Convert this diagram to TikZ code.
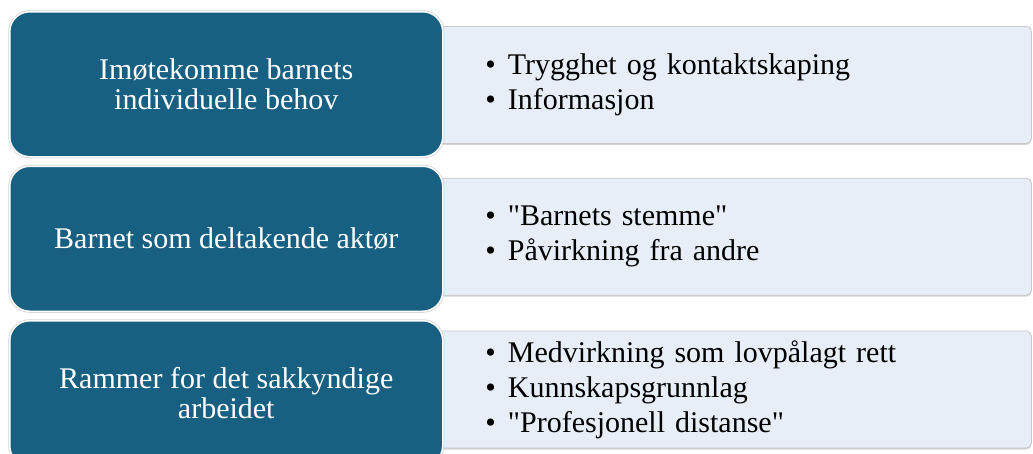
\documentclass[tikz,border=0pt]{standalone}
\usepackage{fontspec}
\setmainfont{Liberation Serif}[Ligatures=TeXOff]
\usetikzlibrary{positioning,shadows}
\definecolor{themeblue}{RGB}{24,96,130}
\definecolor{listblue}{RGB}{231,238,248}

\begin{document}
\begin{tikzpicture}[x=1pt, y=-1pt,
      theme/.style={fill=themeblue, draw=white, line width=1.5pt,
        preaction={draw=black!18, line width=3pt},
        rounded corners=20pt, minimum width=433pt, minimum height=145pt,
        text=white, align=center, font=\fontsize{30}{30}\selectfont},
      listbox/.style={fill=listblue, draw=black!22, line width=0.8pt,
        rounded corners=5pt, minimum width=598pt, minimum height=117pt,
        drop shadow={shadow xshift=0pt, shadow yshift=-1.5pt, opacity=0.35},
        text width=494pt, inner xsep=52pt, align=left,
        font=\fontsize{30}{35}\selectfont}]
    \useasboundingbox (0,0) rectangle (1033,453);
    \node (list1) [listbox, anchor=north west] at (433,26)
      {•\hspace{12pt}Trygghet og kontaktskaping\\ •\hspace{12pt}Informasjon};
    \node (list2) [listbox, below=34pt of list1]
      {•\hspace{12pt}"Barnets stemme"\\ •\hspace{12pt}Påvirkning fra andre};
    \node (list3) [listbox, below=35pt of list2]
      {•\hspace{12pt}Medvirkning som lovpålagt rett\\ •\hspace{12pt}Kunnskapsgrunnlag\\
       •\hspace{12pt}"Profesjonell distanse"};
    \node (theme1) [theme, anchor=north west] at (9,11) {Imøtekomme barnets\\ individuelle behov};
    \node (theme2) [theme, below=8pt of theme1] {Barnet som deltakende aktør};
    \node (theme3) [theme, below=8pt of theme2] {Rammer for det sakkyndige\\ arbeidet};
  \end{tikzpicture}
\end{document}
